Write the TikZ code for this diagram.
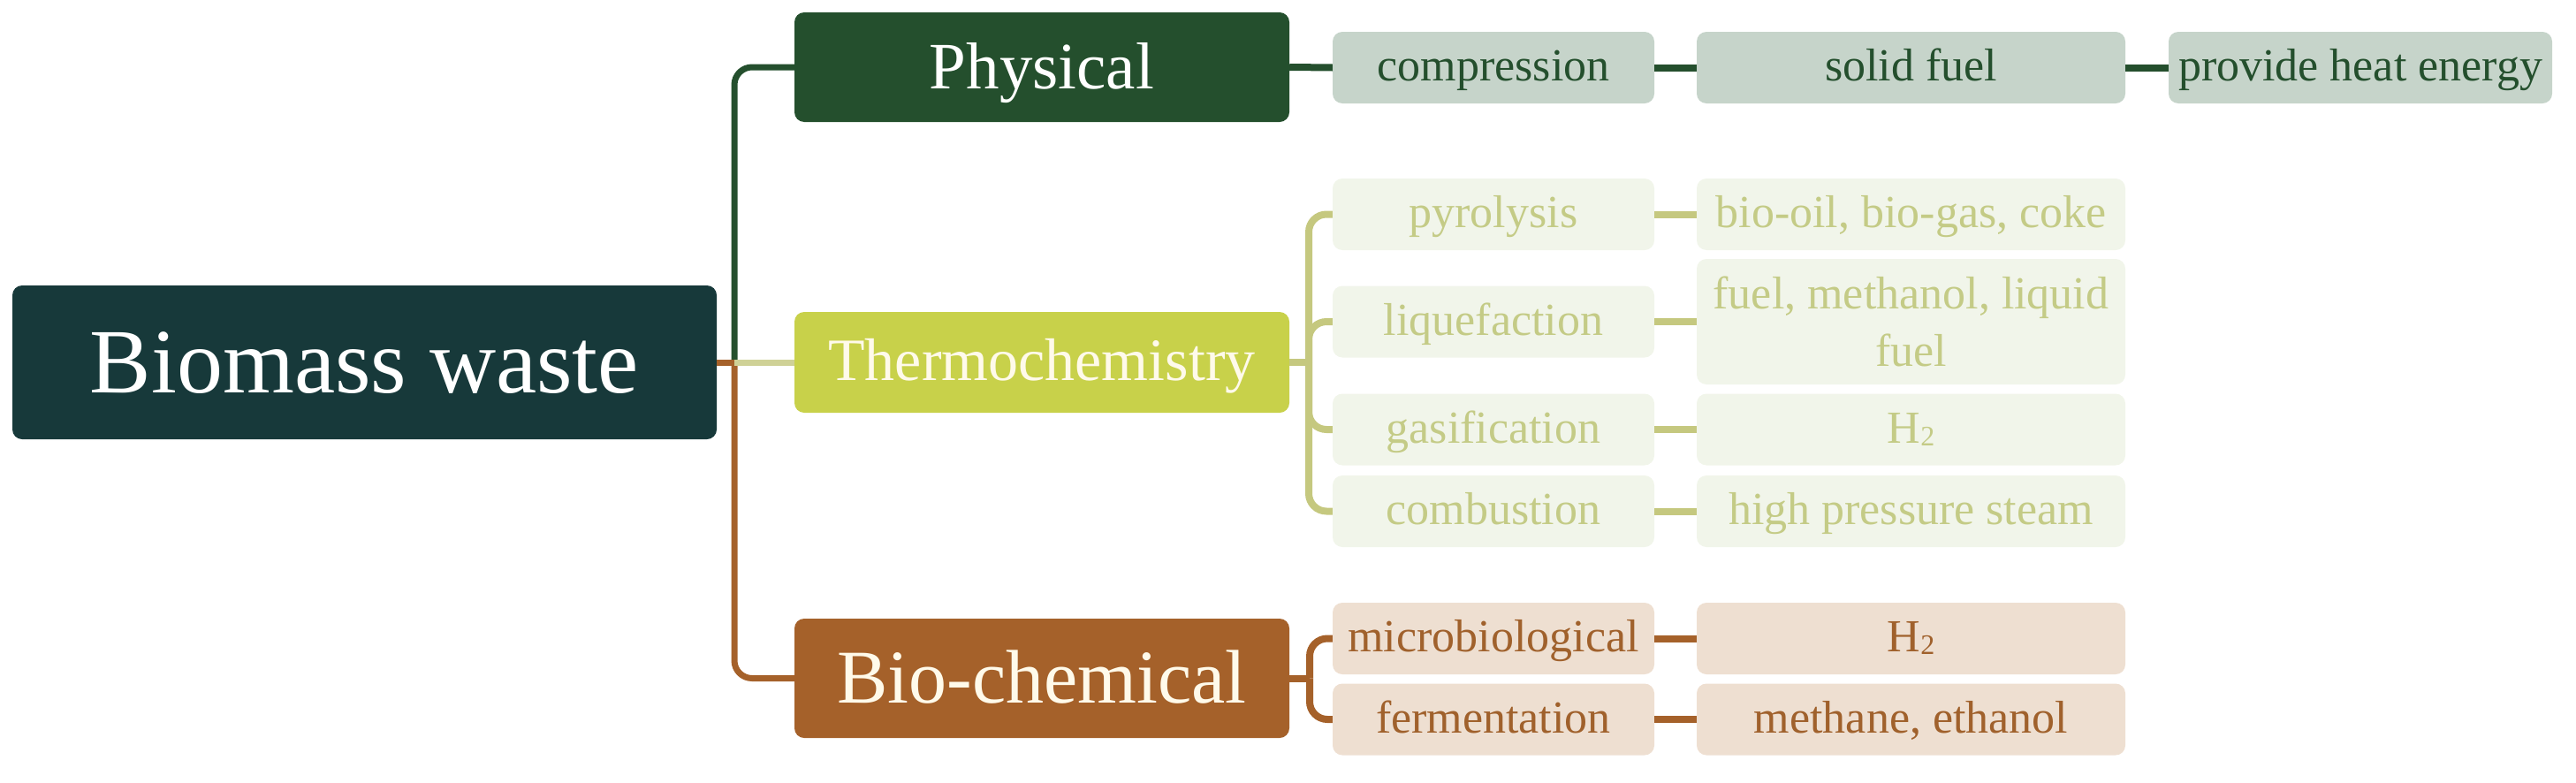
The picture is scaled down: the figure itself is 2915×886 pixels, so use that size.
\documentclass[tikz,border=0pt]{standalone}
\usepackage{fontspec}
\setmainfont{Liberation Serif}
\definecolor{cBio}{HTML}{17393A}
\definecolor{cPhys}{HTML}{244F2D}
\definecolor{cPhysL}{HTML}{C6D4CA}
\definecolor{cThermo}{HTML}{C8D14A}
\definecolor{cThermoL}{HTML}{F1F5EA}
\definecolor{cThermoT}{HTML}{C4CB86}
\definecolor{cThermoLine}{HTML}{C5C87F}
\definecolor{cThermoTrunk}{HTML}{CFD196}
\definecolor{cChem}{HTML}{A5612A}
\definecolor{cChemL}{HTML}{EEDFD1}
\definecolor{cChemT}{HTML}{A0612C}
\definecolor{cCream}{HTML}{FFFAEA}
\newcommand{\hydro}{H{\fontsize{32}{32}\selectfont\raisebox{-3pt}{2}}}
\tikzset{
  box/.style={rounded corners=11pt, inner sep=0pt, align=center},
  big/.style={box, minimum width=560pt},
  smallbase/.style={box, minimum height=81pt, font=\fontsize{52}{65}\selectfont},
  line1/.style={text height=42pt, text depth=12pt},
  small1/.style={smallbase, line1, minimum width=364pt},
  small2/.style={smallbase, line1, minimum width=485pt},
  small3/.style={smallbase, line1, minimum width=434pt},
  physc/.style={fill=cPhysL, text=cPhys},
  thermc/.style={fill=cThermoL, text=cThermoT},
  chemc/.style={fill=cChemL, text=cChemT},
  link/.style={line width=8pt, rounded corners=20pt},
}
\begin{document}
\begin{tikzpicture}[x=1pt, y=-1pt]
\useasboundingbox (0,0) rectangle (2915,886);
% main nodes
\node[box, fill=cBio, text=white, minimum width=797pt, minimum height=174pt,
      text height=84pt, text depth=16pt,
      font=\fontsize{104}{110}\selectfont] (bio) at (412.5,410) {Biomass waste};
\node[big, fill=cPhys, text=white, minimum height=124pt,
      text height=60pt, text depth=12pt,
      font=\fontsize{75}{80}\selectfont] (phys) at (1179,76) {Physical};
\node[big, fill=cThermo, text=cCream, minimum height=114pt,
      text height=54pt, text depth=14pt,
      font=\fontsize{68}{72}\selectfont] (thermo) at (1179,410) {Thermochemistry};
\node[big, fill=cChem, text=cCream, minimum height=135pt,
      text height=70pt, text depth=15pt,
      font=\fontsize{86}{90}\selectfont] (chem) at (1179,767.5) {Bio-chemical};
% physical row
\node[small1, physc] (comp) at (1690,76.5) {compression};
\node[small2, physc] (solid) at (2162.5,76.5) {solid fuel};
\node[small3, physc] (heat) at (2671,76.5) {provide heat energy};
% thermochemistry rows
\node[small1, thermc] (pyro) at (1690,242.5) {pyrolysis};
\node[small2, thermc] (biooil) at (2162.5,242.5) {bio-oil, bio-gas, coke};
\node[small1, thermc] (liq) at (1690,364) {liquefaction};
\node[smallbase, thermc, minimum width=485pt, minimum height=142pt] (fuel) at (2162.5,364) {fuel, methanol, liquid\\fuel};
\node[small1, thermc] (gas) at (1690,486) {gasification};
\node[small2, thermc] (h2a) at (2162.5,486) {\hydro};
\node[small1, thermc] (comb) at (1690,578.5) {combustion};
\node[small2, thermc] (steam) at (2162.5,578.5) {high pressure steam};
% bio-chemical rows
\node[small1, chemc] (micro) at (1690,722.5) {microbiological};
\node[small2, chemc] (h2b) at (2162.5,722.5) {\hydro};
\node[small1, chemc] (ferm) at (1690,814) {fermentation};
\node[small2, chemc] (meth) at (2162.5,814) {methane, ethanol};
% junctions
\coordinate (J) at (831,410);
\coordinate (TB) at (1481,410);
\coordinate (BB) at (1482,767.5);
% trunk
\draw[link, cPhys, line width=7pt] (J) |- (phys.west);
\draw[link, cChem, line width=7pt] (J) |- (chem.west);
\draw[link, cChem, line width=7pt] (bio.east) -- (J);
\draw[link, cThermoTrunk, line width=7pt] (J) -- (thermo.west);
% physical chain
\draw[link, cPhys] (phys.east) -- (comp.west);
\draw[link, cPhys] (comp.east) -- (solid.west);
\draw[link, cPhys] (solid.east) -- (heat.west);
% thermo bracket
\draw[link, cThermoLine] (thermo.east) -- (TB);
\draw[link, cThermoLine] (TB) |- (pyro.west);
\draw[link, cThermoLine] (TB) |- (liq.west);
\draw[link, cThermoLine] (TB) |- (gas.west);
\draw[link, cThermoLine] (TB) |- (comb.west);
\draw[link, cThermoLine] (pyro.east) -- (biooil.west);
\draw[link, cThermoLine] (liq.east) -- (fuel.west);
\draw[link, cThermoLine] (gas.east) -- (h2a.west);
\draw[link, cThermoLine] (comb.east) -- (steam.west);
% bio-chemical bracket
\draw[link, cChem] (chem.east) -- (BB);
\draw[link, cChem] (BB) |- (micro.west);
\draw[link, cChem] (BB) |- (ferm.west);
\draw[link, cChem] (micro.east) -- (h2b.west);
\draw[link, cChem] (ferm.east) -- (meth.west);
\end{tikzpicture}
\end{document}
